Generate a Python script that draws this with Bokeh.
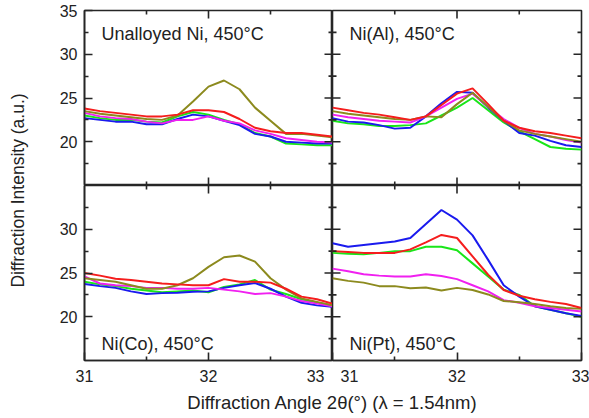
from bokeh.plotting import figure
from bokeh.models import Label, LinearAxis, FixedTicker, Range1d
from bokeh.layouts import row, column
from bokeh.embed import file_html
from bokeh.resources import INLINE

# ---------------- data ----------------
X = [31.0, 31.125, 31.25, 31.375, 31.5, 31.625, 31.75, 31.875, 32.0,
     32.125, 32.25, 32.375, 32.5, 32.625, 32.75, 32.875, 33.0]

# Unalloyed Ni
ni_red = [23.8, 23.5, 23.3, 23.1, 22.9, 22.9, 23.1, 23.6, 23.6, 23.4, 22.6, 21.6, 21.2, 21.0, 21.0, 20.8, 20.6]
ni_olive = [23.5, 23.2, 23.0, 22.8, 22.6, 22.5, 23.0, 24.6, 26.3, 27.0, 26.0, 23.9, 22.4, 20.9, 20.9, 20.7, 20.5]
ni_blue = [22.7, 22.5, 22.3, 22.3, 22.0, 22.0, 22.6, 23.1, 22.9, 22.4, 21.9, 20.9, 20.6, 20.0, 19.9, 19.8, 19.8]
ni_green = [23.0, 22.7, 22.5, 22.5, 22.3, 22.2, 22.9, 23.4, 23.1, 22.5, 22.0, 21.0, 20.6, 19.8, 19.7, 19.6, 19.6]
ni_magenta = [23.3, 22.9, 22.7, 22.6, 22.3, 22.1, 22.5, 22.5, 22.9, 22.4, 22.1, 21.3, 20.9, 20.4, 20.2, 20.0, 19.9]

# Ni(Al)
al_red = [23.9, 23.6, 23.3, 23.1, 22.8, 22.5, 22.9, 24.2, 25.5, 26.1, 24.3, 22.4, 21.6, 21.2, 21.0, 20.7, 20.4]
al_olive = [23.5, 23.2, 23.0, 22.8, 22.6, 22.5, 22.9, 22.8, 24.3, 25.6, 24.0, 22.4, 21.3, 20.9, 20.6, 20.3, 20.0]
al_blue = [22.7, 22.3, 22.2, 21.9, 21.5, 21.6, 22.9, 24.4, 25.7, 25.6, 23.9, 22.4, 21.0, 20.7, 20.1, 19.6, 19.4]
al_green = [22.4, 22.1, 22.0, 21.8, 21.8, 21.9, 22.1, 23.0, 23.9, 25.0, 23.6, 22.2, 21.2, 20.3, 19.4, 19.2, 19.1]
al_magenta = [23.1, 22.8, 22.6, 22.4, 22.3, 22.2, 22.9, 23.9, 24.9, 25.5, 24.0, 22.6, 21.6, 20.9, 20.6, 20.2, 19.9]

# Ni(Co)
co_red = [25.0, 24.7, 24.35, 24.2, 24.0, 23.8, 23.7, 23.6, 23.6, 24.3, 24.0, 24.0, 23.9, 23.2, 22.3, 22.0, 21.5]
co_olive = [24.4, 24.2, 24.0, 23.6, 23.2, 23.2, 23.6, 24.4, 25.7, 26.8, 27.0, 26.3, 24.4, 23.1, 22.1, 21.7, 21.3]
co_blue = [23.75, 23.5, 23.3, 22.9, 22.6, 22.7, 22.75, 22.85, 22.9, 23.3, 23.6, 23.85, 23.2, 22.3, 21.6, 21.3, 21.15]
co_green = [24.0, 23.7, 23.5, 23.2, 23.0, 22.8, 22.9, 23.0, 22.8, 23.4, 23.7, 24.2, 23.1, 22.6, 22.0, 21.6, 21.3]
co_magenta = [24.6, 23.8, 23.6, 23.5, 23.3, 23.3, 23.2, 23.2, 23.3, 23.1, 22.9, 22.6, 22.7, 22.3, 21.8, 21.5, 21.2]

# Ni(Pt)
pt_red = [27.5, 27.4, 27.3, 27.3, 27.3, 27.7, 28.5, 29.35, 29.0, 26.9, 24.8, 23.05, 22.4, 22.0, 21.7, 21.45, 21.0]
pt_olive = [24.4, 24.1, 23.9, 23.5, 23.5, 23.25, 23.35, 23.0, 23.3, 23.05, 22.55, 21.8, 21.65, 21.45, 21.2, 21.0, 20.9]
pt_blue = [28.4, 28.0, 28.2, 28.4, 28.6, 29.0, 30.6, 32.2, 31.1, 29.3, 26.5, 23.6, 22.3, 21.2, 20.8, 20.4, 20.1]
pt_green = [27.3, 27.2, 27.15, 27.3, 27.5, 27.5, 28.0, 28.0, 27.6, 26.1, 24.6, 23.1, 22.5, 21.2, 20.8, 20.4, 20.0]
pt_magenta = [25.5, 25.2, 24.85, 24.7, 24.6, 24.6, 24.85, 24.65, 24.3, 23.6, 22.9, 21.9, 21.6, 21.2, 21.0, 20.8, 20.6]

panel_titles = ["Unalloyed Ni, 450°C", "Ni(Al), 450°C", "Ni(Co), 450°C", "Ni(Pt), 450°C"]
x_lim = [31, 33]
y_lim = [15, 35]
x_major = [31, 32, 33]
x_minor = [31.5, 32.5]
x_inner = [32]
y_major_top = [20, 25, 30, 35]
y_major_bottom = [20, 25, 30]
y_minor = [17.5, 22.5, 27.5, 32.5]
x_title = "Diffraction Angle 2θ(°) (λ = 1.54nm)"
y_title = "Diffraction Intensity (a.u.)"

# ---------------- style ----------------
FONT = "Liberation Sans"
AX = "#262626"
TXT = "#222222"
COLORS = {"green": "#19e619", "blue": "#1a1aee", "magenta": "#f020f0",
          "olive": "#8c8a1e", "red": "#f51d1d"}
EN = "\u2002"
EPS = 1e-6  # keeps edge tick markers inside the culling box


def make_axis(ticks, minors, overrides=None):
    ax = LinearAxis(ticker=FixedTicker(ticks=ticks, minor_ticks=minors))
    ax.axis_line_color = AX
    ax.axis_line_width = 1.6
    ax.major_tick_line_color = AX
    ax.major_tick_line_width = 1.6
    ax.minor_tick_line_color = AX
    ax.minor_tick_line_width = 1.6
    ax.major_tick_in = 8
    ax.major_tick_out = 0
    ax.minor_tick_in = 4
    ax.minor_tick_out = 0
    ax.major_label_text_font = FONT
    ax.major_label_text_font_size = "16px"
    ax.major_label_text_color = TXT
    ax.major_label_standoff = 7
    if overrides:
        ax.major_label_overrides = overrides
    return ax


def edge_ticks(p, side):
    # inward tick marks on an unlabeled edge: dash markers centred on the frame edge,
    # the outer half of each is clipped away by the frame
    if side in ("left", "right"):
        xe = x_lim[0] + EPS if side == "left" else x_lim[1] - EPS
        for vals, size in ((y_major_bottom, 16), (y_minor, 8)):
            p.scatter([xe] * len(vals), vals, marker="dash", size=size,
                      line_color=AX, line_width=1.6)
    else:
        ye = y_lim[1] - EPS if side == "top" else y_lim[0] + EPS
        for vals, size in ((x_inner, 16), (x_minor, 8)):
            p.scatter(vals, [ye] * len(vals), marker="dash", size=size, angle=90,
                      angle_units="deg", line_color=AX, line_width=1.6)


def panel(width, height, mbl, mbr, mbt, mbb, series, title, title_top,
          left_axis=None, bottom_axis=None):
    p = figure(width=width, height=height, x_range=Range1d(*x_lim), y_range=Range1d(*y_lim),
               output_backend="svg", toolbar_location=None,
               x_axis_location=None, y_axis_location=None,
               min_border_left=mbl, min_border_right=mbr,
               min_border_top=mbt, min_border_bottom=mbb)
    p.grid.visible = False
    p.outline_line_color = AX
    p.outline_line_width = 1.6
    p.background_fill_color = "white"
    p.border_fill_color = "white"
    for name in ["green", "blue", "magenta", "olive", "red"]:
        p.line(X, series[name], line_color=COLORS[name], line_width=2)
    if left_axis is not None:
        p.add_layout(left_axis, "left")
    else:
        edge_ticks(p, "left")
    if bottom_axis is not None:
        p.add_layout(bottom_axis, "below")
    else:
        edge_ticks(p, "bottom")
    edge_ticks(p, "right")
    edge_ticks(p, "top")
    if title_top:
        lab = Label(x=x_lim[0], y=y_lim[1], x_offset=17, y_offset=-13, text=title,
                    text_baseline="top")
    else:
        lab = Label(x=x_lim[0], y=y_lim[0], x_offset=17, y_offset=17, text=title,
                    text_baseline="alphabetic")
    lab.text_font = FONT
    lab.text_font_size = "18px"
    lab.text_color = TXT
    p.add_layout(lab)
    return p


tl = panel(302, 185, 54, 0, 10, 0,
           dict(red=ni_red, olive=ni_olive, blue=ni_blue, green=ni_green, magenta=ni_magenta),
           panel_titles[0], True, left_axis=make_axis(y_major_top, y_minor))
tr = panel(257, 185, 0, 8, 10, 0,
           dict(red=al_red, olive=al_olive, blue=al_blue, green=al_green, magenta=al_magenta),
           panel_titles[1], True)
bl = panel(302, 203, 54, 0, 0, 28,
           dict(red=co_red, olive=co_olive, blue=co_blue, green=co_green, magenta=co_magenta),
           panel_titles[2], False,
           left_axis=make_axis(y_major_bottom, y_minor),
           bottom_axis=make_axis(x_major, x_minor, {33: "33" + EN}))
br = panel(257, 203, 0, 8, 0, 28,
           dict(red=pt_red, olive=pt_olive, blue=pt_blue, green=pt_green, magenta=pt_magenta),
           panel_titles[3], False,
           bottom_axis=make_axis(x_major, x_minor, {31: EN + "31"}))


def blank(w, h):
    f = figure(width=w, height=h, x_range=Range1d(0, w), y_range=Range1d(0, h),
               output_backend="svg", toolbar_location=None,
               x_axis_location=None, y_axis_location=None,
               min_border=0, min_border_left=0, min_border_right=0,
               min_border_top=0, min_border_bottom=0)
    f.grid.visible = False
    f.outline_line_color = None
    f.border_fill_color = "white"
    f.background_fill_color = "white"
    return f


yt = blank(30, 388)
ylab = Label(x=17, y=388 - 190, text=y_title, angle=90, angle_units="deg",
             text_align="center", text_baseline="middle")
ylab.text_font = FONT
ylab.text_font_size = "17.5px"
ylab.text_color = TXT
yt.add_layout(ylab)

xt = blank(589, 30)
xlab = Label(x=332, y=30 - 14, text=x_title, text_align="center", text_baseline="middle")
xlab.text_font = FONT
xlab.text_font_size = "18.5px"
xlab.text_color = TXT
xt.add_layout(xlab)

layout = column(row(yt, column(row(tl, tr), row(bl, br))), xt)

open("out.html", "w").write(file_html(layout, INLINE))
